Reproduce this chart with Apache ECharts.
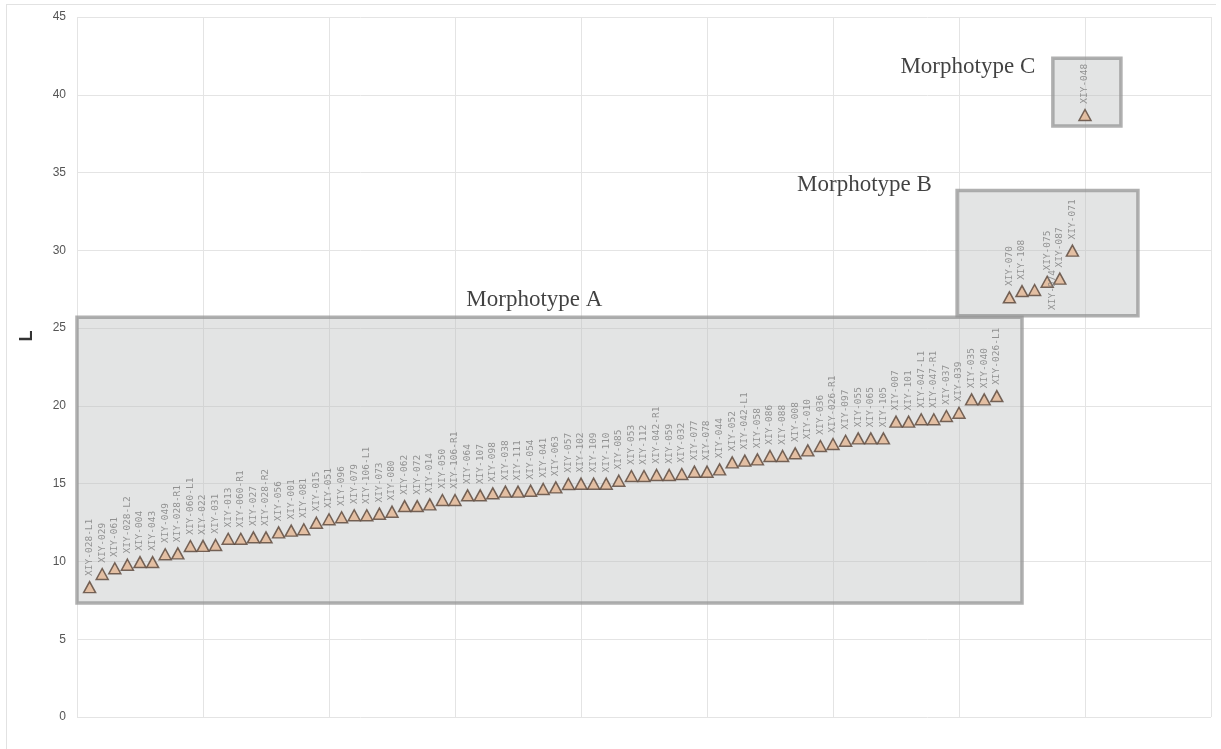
<!DOCTYPE html>
<html>
<head>
<meta charset="utf-8">
<script src="https://cdn.jsdelivr.net/npm/echarts@6/dist/echarts.min.js"></script>
<style>
html,body{margin:0;padding:0;background:#fff;}
#frame{position:absolute;left:6px;top:4px;width:1209px;height:760px;border-left:1px solid #e2e2e2;border-top:1px solid #e2e2e2;}
#chart{position:absolute;left:0;top:0;width:1221px;height:749px;}
</style>
</head>
<body>
<div id="frame"></div>
<div id="chart"></div>
<script>
// Specimen names, in plotted order
const specimens = [
  'XIY-028-L1','XIY-029','XIY-061','XIY-028-L2','XIY-004','XIY-043','XIY-049','XIY-028-R1','XIY-060-L1','XIY-022',
  'XIY-031','XIY-013','XIY-060-R1','XIY-027','XIY-028-R2','XIY-056','XIY-001','XIY-081','XIY-015','XIY-051',
  'XIY-096','XIY-079','XIY-106-L1','XIY-073','XIY-080','XIY-062','XIY-072','XIY-014','XIY-050','XIY-106-R1',
  'XIY-064','XIY-107','XIY-098','XIY-038','XIY-111','XIY-054','XIY-041','XIY-063','XIY-057','XIY-102',
  'XIY-109','XIY-110','XIY-085','XIY-053','XIY-112','XIY-042-R1','XIY-059','XIY-032','XIY-077','XIY-078',
  'XIY-044','XIY-052','XIY-042-L1','XIY-058','XIY-086','XIY-088','XIY-008','XIY-010','XIY-036','XIY-026-R1',
  'XIY-097','XIY-055','XIY-065','XIY-105','XIY-007','XIY-101','XIY-047-L1','XIY-047-R1','XIY-037','XIY-039',
  'XIY-035','XIY-040','XIY-026-L1',
  'XIY-070','XIY-108','XIY-074','XIY-075','XIY-087','XIY-071',
  'XIY-048'
];
// L values
const lengths = [
  8.35, 9.19, 9.56, 9.79, 9.96, 9.96, 10.46, 10.52, 10.99, 11.00,
  11.06, 11.46, 11.46, 11.55, 11.55, 11.87, 11.98, 12.07, 12.49, 12.71,
  12.84, 12.97, 12.97, 13.07, 13.20, 13.56, 13.56, 13.67, 13.95, 13.95,
  14.25, 14.25, 14.38, 14.49, 14.49, 14.55, 14.66, 14.76, 14.98, 15.00,
  15.00, 15.00, 15.19, 15.49, 15.49, 15.56, 15.56, 15.62, 15.77, 15.77,
  15.92, 16.37, 16.48, 16.56, 16.78, 16.78, 16.95, 17.14, 17.42, 17.55,
  17.76, 17.91, 17.91, 17.91, 18.99, 18.99, 19.14, 19.14, 19.35, 19.56,
  20.42, 20.42, 20.63,
  26.98, 27.38, 27.45, 27.98, 28.18, 29.98,
  38.70
];
const yTicks = [0, 5, 10, 15, 20, 25, 30, 35, 40, 45];
// Morphotype groups: name, x range, y range (data units)
const groupNames = ['Morphotype A', 'Morphotype B', 'Morphotype C'];
const groupX = [[0, 75.0], [69.85, 84.2], [77.45, 82.85]];
const groupY = [[7.33, 25.7], [25.8, 33.85], [38.0, 42.35]];
const groupLabelAt = [[36.3, 26.8], [62.5, 34.2], [70.7, 41.8]];

const chart = echarts.init(document.getElementById('chart'), null, {renderer: 'canvas'});

const points = lengths.map((v, i) => {
  const d = {name: specimens[i], value: [i + 1, v]};
  if (specimens[i] === 'XIY-074') {
    d.label = {position: 'right', distance: 11, align: 'center', verticalAlign: 'middle'};
  }
  return d;
});

const option = {
  animation: false,
  backgroundColor: 'transparent',
  grid: {left: 77, right: 10, top: 17, bottom: 32, containLabel: false},
  xAxis: {
    type: 'value', min: 0, max: 90, interval: 10,
    axisLabel: {show: false}, axisTick: {show: false}, axisLine: {show: false},
    splitLine: {show: true, lineStyle: {color: '#e4e4e4', width: 1}}
  },
  yAxis: {
    type: 'value', min: yTicks[0], max: yTicks[yTicks.length - 1], interval: 5,
    name: 'L', nameLocation: 'middle', nameGap: 41,
    nameTextStyle: {fontFamily: 'Liberation Sans', fontWeight: 'bold', fontSize: 18, color: '#333', padding: [0, 0, 0, 62]},
    axisLabel: {color: '#555', fontSize: 12, fontFamily: 'Liberation Sans', margin: 11},
    axisTick: {show: false}, axisLine: {show: false},
    splitLine: {show: true, lineStyle: {color: '#e4e4e4', width: 1}}
  },
  series: [
    {
      name: 'groups', type: 'scatter', data: [], z: 1,
      markArea: {
        silent: true,
        itemStyle: {color: 'rgba(185,188,188,0.40)', borderColor: 'rgba(150,150,150,0.75)', borderWidth: 3.5},
        label: {show: false},
        data: groupNames.map((n, i) => [
          {name: n, coord: [groupX[i][0], groupY[i][1]]},
          {coord: [groupX[i][1], groupY[i][0]]}
        ])
      }
    },
    {
      name: 'L', type: 'scatter', z: 3,
      symbol: 'triangle', symbolSize: [12, 11],
      itemStyle: {color: '#e2b592', borderColor: '#57453a', borderWidth: 1.5},
      label: {
        show: true, formatter: '{b}', position: 'top', distance: 5, rotate: 90,
        align: 'left', verticalAlign: 'middle',
        color: '#7c7c7c', fontSize: 9.5, fontFamily: 'DejaVu Sans Mono'
      },
      labelLayout: {hideOverlap: false},
      data: points
    },
    {
      name: 'annotations', type: 'scatter', z: 4, symbolSize: 0, silent: true,
      label: {
        show: true, formatter: '{b}', position: 'inside',
        color: '#111', fontSize: 23, fontFamily: 'Liberation Serif'
      },
      data: groupNames.map((n, i) => ({name: n, value: groupLabelAt[i]}))
    }
  ]
};
chart.setOption(option);
</script>
</body>
</html>
